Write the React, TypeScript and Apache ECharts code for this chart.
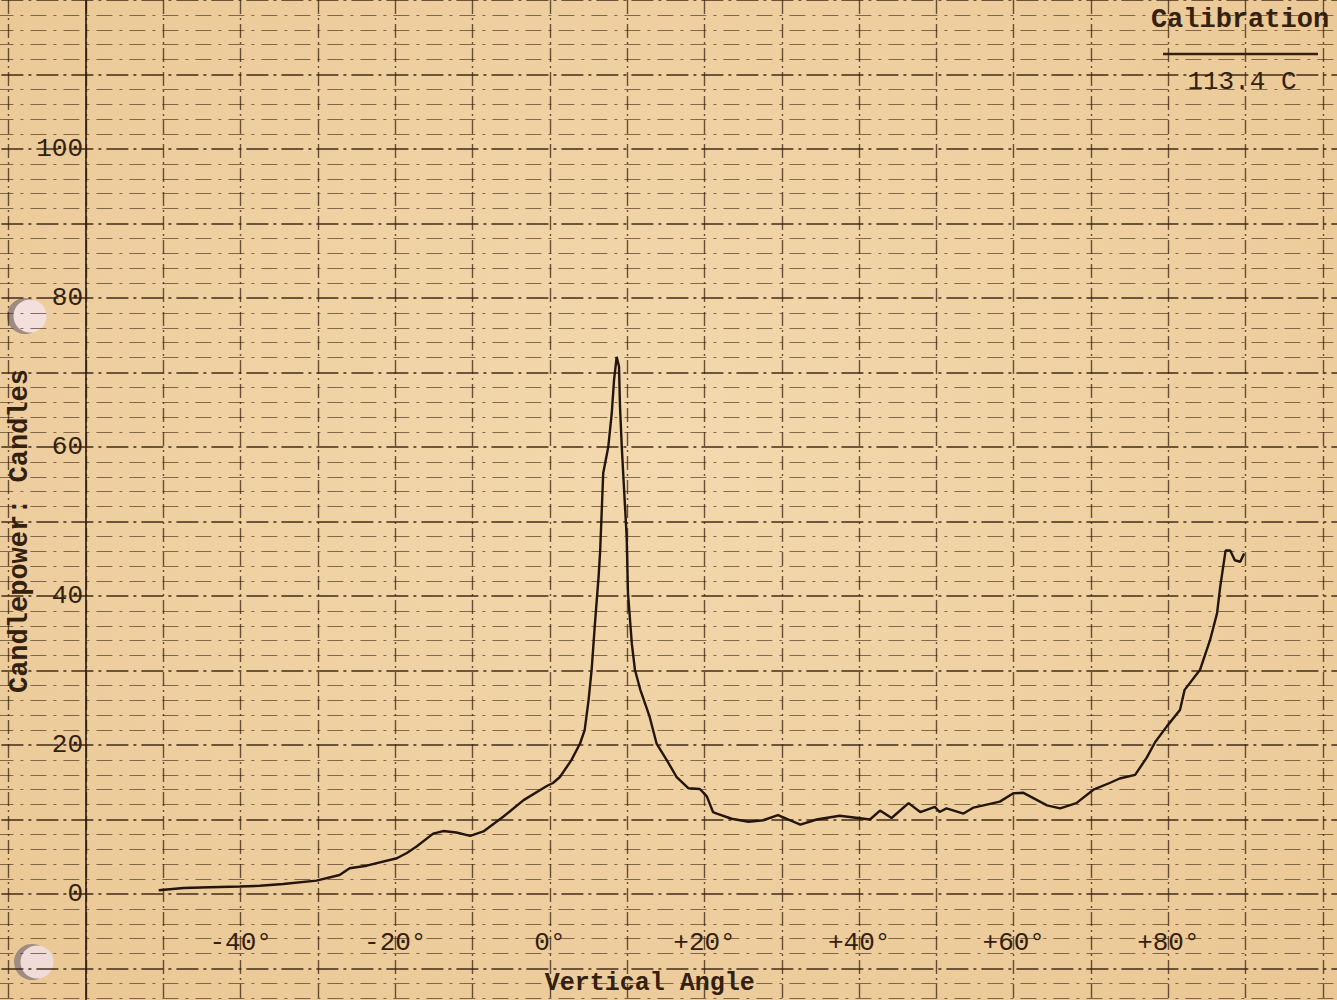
import React, { useEffect, useRef } from "react";
import * as echarts from "echarts";

// Vertical angle (degrees) and candlepower (candles)
const angles = [
  -50.6, -47.4, -44, -40.1, -37.5, -34.5, -30.2, -27.2, -25.9, -23.7, -19.8, -18.5, -17.2, -15.1,
  -13.8, -12.1, -10.3, -8.6, -6.0, -3.4, -0.4, 0.4, 1.3, 2.8, 3.9, 4.5, 5.0, 5.4, 5.8, 6.3, 6.5,
  6.9, 7.55, 8.0, 8.3, 8.64, 8.94, 9.07, 9.3, 9.6, 9.93, 10.1, 10.6, 11.0, 11.7, 12.9, 13.8, 15.1,
  16.4, 17.9, 19.4, 20.3, 21.1, 21.6, 23.5, 25.7, 27.6, 29.5, 32.4, 34.5, 37.5, 41.4, 42.7, 44.2,
  46.4, 47.9, 49.8, 50.4, 51.3, 53.5, 54.8, 58.2, 59.9, 61.2, 64.3, 66.0, 68.1, 70.3, 72.4, 73.7,
  75.7, 77.2, 78.3, 79.8, 81.5, 82.1, 84.1, 85.4, 86.3, 86.7, 87.4, 88.0, 88.6, 89.3, 89.8,
];
const candlepower = [
  0.5, 0.8, 0.9, 1.0, 1.1, 1.35, 1.8, 2.55, 3.45, 3.8, 4.8, 5.5, 6.4, 8.1,
  8.45, 8.25, 7.8, 8.4, 10.4, 12.6, 14.5, 14.9, 15.7, 18.0, 20.2, 22.0, 26.0, 30.1, 35.9, 42.6, 46.0,
  56.5, 60.0, 64.5, 69.0, 72.1, 70.8, 65.4, 60.0, 54.2, 48.0, 40.4, 33.6, 30.1, 27.4, 23.8, 20.2, 18.0,
  15.7, 14.2, 14.1, 13.1, 11.0, 10.8, 10.1, 9.7, 9.9, 10.6, 9.3, 10.0, 10.5, 10.0, 11.2, 10.2,
  12.2, 11.0, 11.7, 11.0, 11.5, 10.8, 11.6, 12.4, 13.5, 13.6, 11.9, 11.5, 12.2, 14.0, 14.9, 15.5,
  16.0, 18.3, 20.4, 22.5, 24.7, 27.4, 30.1, 34.1, 37.7, 41.2, 46.1, 46.1, 44.8, 44.6, 45.7,
];
const xTickLabels = [-40, -20, 0, 20, 40, 60, 80];
const yTickLabels = [0, 20, 40, 60, 80, 100];
const xAxisTitle = "Vertical Angle";
const yAxisTitle = "Candlepower: Candles";
const calibrationTitle = "Calibration";
const calibrationValue = "113.4 C";

const INK = "#33200e";
const FONT = "'Liberation Mono', 'DejaVu Sans Mono', monospace";

export default function App() {
  const ref = useRef<HTMLDivElement>(null);
  useEffect(() => {
    document.body.style.margin = "0";
    const chart = echarts.init(ref.current!, null, { renderer: "svg" });
    const fmtX = (v: number) => {
      if (!xTickLabels.includes(v)) return "";
      if (v > 0) return "+" + v + "°";
      return v + "°";
    };
    const fmtY = (v: number) => (yTickLabels.includes(v) ? String(v) : "");
    chart.setOption({
      animation: false,
      backgroundColor: "#f0d3a6",
      grid: {
        left: -68.6,
        right: -63.3,
        top: 0,
        bottom: -43,
        containLabel: false,
        outerBoundsMode: "none",
      },
      xAxis: {
        type: "value",
        min: -80,
        max: 110,
        interval: 10,
        axisLine: { show: false },
        axisTick: { show: false },
        splitLine: {
          show: true,
          lineStyle: { color: "rgba(58,34,15,0.75)", width: 1.4, type: [14, 4, 2, 4] },
        },
        axisLabel: {
          inside: true,
          margin: 100,
          verticalAlign: "middle",
          fontSize: 26,
          fontFamily: FONT,
          color: INK,
          formatter: fmtX,
        },
        name: xAxisTitle,
        nameLocation: "middle",
        nameGap: -60,
        nameTextStyle: {
          fontSize: 25,
          fontFamily: FONT,
          fontWeight: "bold",
          color: INK,
          verticalAlign: "middle",
          padding: [0, 32, 0, 0],
        },
      },
      yAxis: {
        type: "value",
        min: -20,
        max: 120,
        interval: 10,
        axisLine: { show: false },
        axisTick: { show: false },
        minorTick: { show: false, splitNumber: 5 },
        splitLine: {
          show: true,
          lineStyle: { color: "rgba(52,30,12,0.92)", width: 1.7, type: [22, 5, 3, 5] },
        },
        minorSplitLine: {
          show: true,
          lineStyle: { color: "rgba(58,34,15,0.6)", width: 1.2, type: [16, 7, 3, 7] },
        },
        axisLabel: {
          inside: true,
          margin: 151.6,
          align: "right",
          verticalAlign: "middle",
          fontSize: 26,
          fontFamily: FONT,
          color: INK,
          formatter: fmtY,
        },
      },
      graphic: [
        {
          type: "rect",
          z: -100,
          silent: true,
          shape: { x: 0, y: 0, width: 1337, height: 1000 },
          style: {
            fill: new echarts.graphic.RadialGradient(0.5, 0.45, 0.75, [
              { offset: 0, color: "#f3d9ae" },
              { offset: 1, color: "#eac794" },
            ]),
          },
        },
        {
          type: "circle",
          silent: true,
          shape: { cx: 25, cy: 316, r: 18 },
          style: { fill: "#9e8c82" },
        },
        {
          type: "circle",
          silent: true,
          shape: { cx: 30, cy: 316, r: 16.5 },
          style: { fill: "#f3e0dc" },
        },
        {
          type: "circle",
          silent: true,
          shape: { cx: 32, cy: 962, r: 18 },
          style: { fill: "#9e8c82" },
        },
        {
          type: "circle",
          silent: true,
          shape: { cx: 37, cy: 962, r: 16.5 },
          style: { fill: "#efdcd8" },
        },
        {
          type: "text",
          x: 20,
          y: 531,
          rotation: Math.PI / 2,
          z: 10,
          style: {
            text: yAxisTitle,
            fontSize: 27,
            fontFamily: FONT,
            fontWeight: "bold",
            fill: INK,
            align: "center",
            verticalAlign: "middle",
          },
        },
        {
          type: "text",
          x: 1240,
          y: 20,
          style: {
            text: calibrationTitle,
            fontSize: 27,
            fontFamily: FONT,
            fontWeight: "bold",
            fill: INK,
            align: "center",
            verticalAlign: "middle",
          },
        },
        {
          type: "line",
          shape: { x1: 1163, y1: 54, x2: 1318, y2: 54 },
          style: { stroke: INK, lineWidth: 2.5 },
        },
        {
          type: "text",
          x: 1242,
          y: 82,
          style: {
            text: calibrationValue,
            fontSize: 26,
            fontFamily: FONT,
            fill: INK,
            align: "center",
            verticalAlign: "middle",
          },
        },
      ],
      series: [
        {
          type: "line",
          data: angles.map((a, i) => [a, candlepower[i]]),
          showSymbol: false,
          smooth: false,
          z: 5,
          lineStyle: { color: "#23150b", width: 2.4 },
          markLine: {
            silent: true,
            symbol: "none",
            label: { show: false },
            lineStyle: { color: "rgba(45,26,10,0.9)", width: 1.8, type: "solid" },
            data: [{ xAxis: -60 }],
          },
        },
      ],
    });
    return () => chart.dispose();
  }, []);
  return (
    <div
      ref={ref}
      style={{ position: "absolute", left: 0, top: 0, width: 1337, height: 1000 }}
    />
  );
}
